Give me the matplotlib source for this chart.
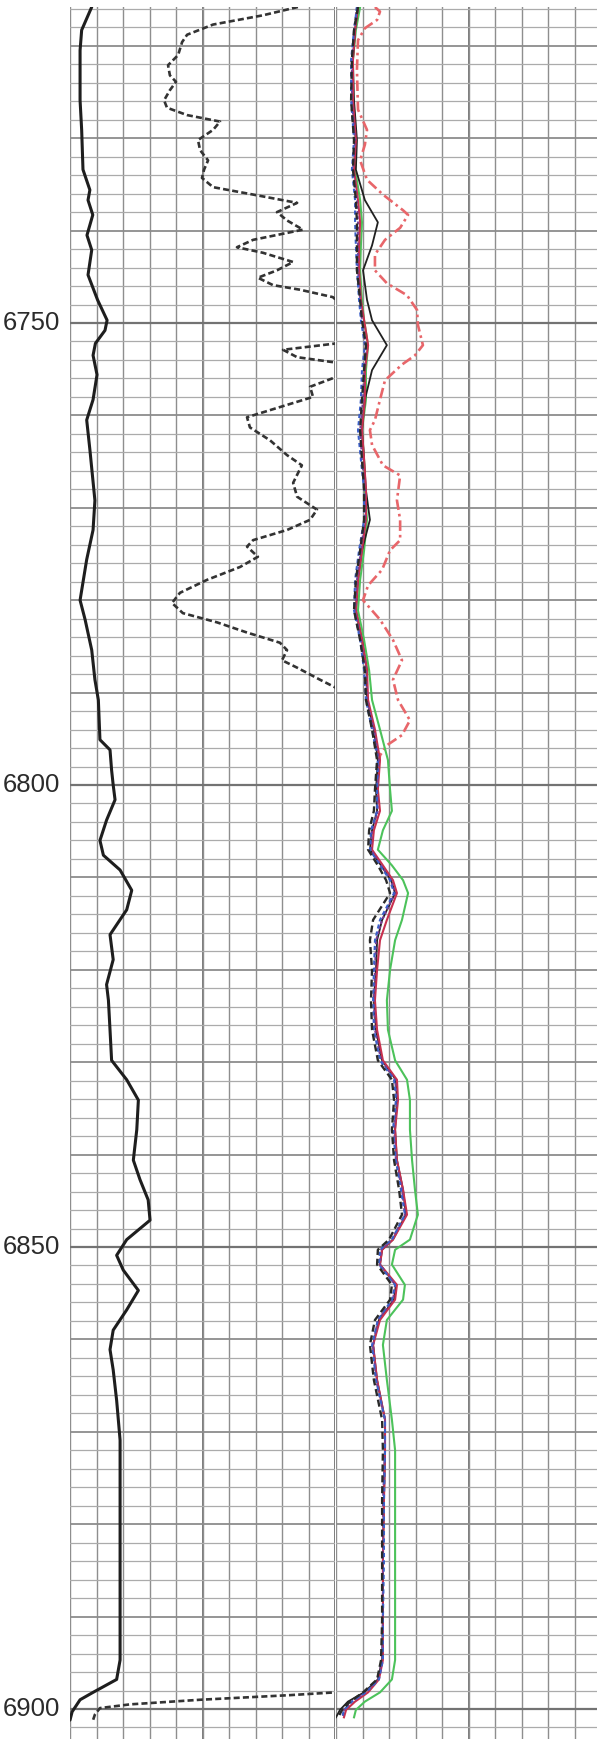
import numpy as np
import matplotlib
matplotlib.use("Agg")
import matplotlib.pyplot as plt
from matplotlib.transforms import blended_transform_factory

# ---------------- data ----------------
# Track 1, solid curve (depth ft, value 0-100 track scale)
t1_solid_depth = [6715.8, 6718.3, 6720.5, 6725.9, 6729.1, 6733.4, 6735.6, 6736.7, 6738.3, 6740.5,
                  6742.1, 6744.8, 6747.5, 6749.7, 6750.8, 6752.2, 6753.5, 6755.6, 6758.3, 6760.5,
                  6763.7, 6769.2, 6772.4, 6775.6, 6780.0, 6782.1, 6785.4, 6788.6, 6790.8, 6795.1,
                  6796.2, 6798.4, 6800.0, 6801.6, 6803.8, 6806.0, 6807.6, 6809.2, 6811.4, 6813.5,
                  6816.2, 6818.9, 6821.6, 6823.3, 6826.5, 6829.8, 6831.9, 6834.1, 6837.3, 6840.6,
                  6842.7, 6844.9, 6847.1, 6849.2, 6850.9, 6852.5, 6854.7, 6856.8, 6859.0, 6861.1,
                  6863.3, 6866.6, 6870.9, 6877.4, 6888.2, 6894.7, 6896.8, 6898.2, 6899.0, 6900.3,
                  6901.2]
t1_solid_val = [8.2, 4.4, 3.8, 3.8, 4.4, 4.9, 7.5, 6.8, 8.6, 6.4,
                8.2, 6.8, 10.4, 14.0, 13.2, 9.6, 8.7, 10.2, 8.7, 6.3,
                7.5, 9.4, 8.7, 6.3, 3.8, 5.7, 8.2, 9.4, 10.7, 11.3,
                15.1, 15.7, 16.3, 17.0, 13.8, 11.3, 12.6, 18.9, 23.3, 21.4,
                15.1, 16.3, 13.8, 14.5, 15.1, 15.7, 21.4, 25.8, 25.2, 23.9,
                26.4, 29.5, 30.2, 21.4, 17.6, 20.1, 25.8, 21.4, 16.3, 15.1,
                16.3, 17.6, 18.9, 18.9, 18.9, 18.9, 17.6, 8.7, 3.8, 0.8,
                0.0]

# Track 1, dashed curve (goes off scale to the right between ~6790 and ~6898)
t1_dash_depth = [6715.8, 6716.7, 6717.7, 6718.8, 6719.6, 6721.0, 6722.1, 6723.2, 6723.9, 6724.8,
                 6725.9, 6726.7, 6727.5, 6728.2, 6729.1, 6730.2, 6731.3, 6732.4, 6733.4, 6734.3,
                 6735.3, 6736.1, 6737.0, 6738.0, 6738.9, 6739.9, 6741.0, 6741.8, 6742.4, 6743.4,
                 6744.3, 6745.1, 6745.9, 6746.4, 6747.2, 6749.5, 6752.2, 6752.9, 6753.7, 6754.3,
                 6755.1, 6755.8, 6756.9, 6758.0, 6759.1, 6760.2, 6761.3, 6762.7, 6764.3, 6765.4,
                 6767.3, 6768.8, 6770.2, 6771.3, 6772.4, 6773.5, 6774.2, 6775.3, 6776.4, 6777.8,
                 6779.2, 6780.3, 6781.4, 6782.4, 6783.5, 6784.6, 6785.4, 6786.5, 6787.3, 6788.6,
                 6789.7, 6791.0, 6897.5, 6898.2, 6898.5, 6899.0, 6899.5, 6899.9, 6900.6, 6901.2]
t1_dash_val = [86.0, 72.8, 54.0, 44.2, 42.3, 40.8, 37.0, 37.7, 40.0, 37.7,
               35.5, 36.6, 44.2, 56.6, 54.0, 48.3, 49.1, 52.1, 50.6, 49.8,
               54.0, 69.1, 85.7, 78.1, 81.9, 87.9, 69.1, 63.0, 72.8, 84.2,
               78.1, 70.9, 76.6, 86.8, 99.2, 108.0, 100.8, 80.4, 85.7, 100.8,
               108.0, 100.8, 90.6, 91.7, 79.2, 66.8, 67.9, 75.5, 81.9, 87.5,
               84.2, 85.7, 93.2, 90.6, 81.9, 69.1, 66.8, 70.9, 64.2, 51.7,
               41.5, 38.5, 42.6, 55.5, 66.8, 79.2, 81.9, 80.0, 85.7, 94.3,
               101.9, 115.0, 115.0, 100.0, 83.0, 49.1, 22.6, 11.3, 9.4, 8.7]

# Track 2 curve bundle (shared depths)
t2_depth = [6715.8, 6718.3, 6721.5, 6725.9, 6730.2, 6733.4, 6736.7, 6739.1, 6741.6, 6744.3,
            6747.5, 6749.7, 6752.4, 6755.1, 6758.3, 6761.6, 6764.8, 6768.1, 6771.3, 6774.6,
            6777.8, 6781.1, 6784.3, 6787.6, 6790.8, 6794.0, 6797.3, 6800.5, 6802.8, 6804.9,
            6807.0, 6808.7, 6810.3, 6811.7, 6814.6, 6816.8, 6820.0, 6823.3, 6826.5, 6829.8,
            6831.9, 6834.1, 6837.3, 6840.6, 6843.8, 6846.5, 6849.2, 6850.3, 6851.9, 6854.1,
            6855.7, 6857.9, 6860.6, 6864.4, 6868.7, 6872.0, 6877.4, 6883.9, 6890.4, 6894.7,
            6896.8, 6898.2, 6899.2, 6900.1, 6900.9]
t2_green = [9.1, 7.5, 6.4, 6.4, 7.5, 7.2, 9.1, 9.8, 9.4, 9.1,
            9.8, 10.6, 12.1, 11.3, 11.3, 9.8, 10.6, 10.9, 11.7, 10.6,
            9.1, 8.3, 10.6, 12.5, 13.6, 16.6, 19.6, 20.4, 21.1, 17.7,
            15.8, 21.1, 25.3, 27.2, 24.9, 22.3, 20.4, 19.2, 19.6, 22.3,
            26.8, 27.9, 27.9, 28.7, 29.8, 30.9, 27.9, 22.3, 21.1, 26.0,
            25.3, 19.2, 17.7, 19.2, 21.1, 22.3, 22.3, 22.3, 22.3, 22.3,
            21.1, 16.6, 10.9, 7.5, 6.8]
t2_red = [8.3, 7.2, 6.4, 6.4, 7.5, 6.8, 8.3, 9.1, 8.7, 8.7,
          9.4, 10.6, 12.1, 10.9, 10.9, 9.8, 10.6, 11.3, 11.3, 9.8,
          8.3, 7.5, 9.8, 11.7, 12.1, 14.7, 16.6, 15.8, 16.6, 14.3,
          13.6, 17.7, 21.5, 23.0, 19.2, 16.6, 15.5, 14.7, 15.5, 17.7,
          23.0, 23.4, 22.3, 23.0, 25.3, 26.8, 21.5, 17.4, 16.6, 23.0,
          22.3, 16.6, 14.0, 15.5, 18.5, 18.5, 18.1, 17.7, 17.7, 17.7,
          16.2, 12.1, 7.2, 3.8, 3.0]
t2_black_dash = [8.3, 6.8, 6.0, 5.7, 6.8, 6.4, 7.5, 7.9, 7.9, 7.9,
                 9.1, 9.8, 11.3, 10.6, 9.8, 9.1, 9.8, 10.6, 10.6, 9.1,
                 7.5, 6.8, 9.1, 10.9, 11.3, 13.6, 15.5, 14.7, 14.3, 12.5,
                 12.1, 15.8, 18.9, 20.4, 14.0, 12.8, 13.6, 13.2, 13.6, 15.8,
                 21.1, 21.9, 21.1, 21.9, 23.8, 24.9, 20.0, 15.8, 15.5, 21.1,
                 20.4, 14.7, 12.8, 14.3, 17.4, 17.7, 17.4, 17.4, 17.4, 17.0,
                 15.5, 10.2, 5.3, 2.3, 0.8]
t2_blue = [7.9, 6.8, 5.7, 5.7, 6.8, 6.0, 7.2, 7.2, 7.5, 7.9,
           8.7, 9.4, 10.9, 9.8, 9.4, 8.3, 9.4, 10.6, 10.6, 8.7,
           7.2, 6.8, 9.1, 10.6, 11.3, 13.6, 15.8, 15.5, 15.5, 13.2,
           12.8, 16.6, 20.4, 21.9, 16.6, 14.7, 14.3, 14.0, 14.3, 16.6,
           21.9, 22.6, 21.5, 22.6, 24.5, 26.0, 21.1, 16.6, 16.2, 22.3,
           21.1, 15.8, 13.6, 15.1, 18.5, 18.5, 18.1, 18.1, 17.7, 17.7,
           16.2, 11.3, 6.0, 3.0, 2.3]
t2_black = [8.3, 7.2, 6.4, 6.8, 7.9, 7.5, 10.9, 15.8, 13.6, 10.2,
            11.7, 13.6, 19.2, 13.6, 10.9, 9.8, 10.6, 11.3, 12.8, 9.8,
            8.3, 7.5, 9.8, 11.7, 11.7, 14.3, 15.8, 15.1, 15.5, 13.6,
            12.8, 17.0, 20.8, 22.3, 17.4, 15.5, 15.1, 14.3, 15.1, 17.4,
            22.6, 23.0, 22.3, 23.0, 25.3, 26.4, 21.5, 17.4, 16.6, 22.6,
            21.9, 16.2, 14.0, 15.5, 18.5, 18.5, 18.1, 17.7, 17.7, 17.4,
            15.8, 10.6, 4.5, 1.5, 0.0]
t2_purple = [7.9, 6.8, 6.0, 6.0, 7.2, 6.4, 7.9, 8.3, 8.3, 8.3,
             9.1, 9.8, 11.3, 10.6, 10.2, 9.1, 9.8, 10.9, 10.9, 9.4,
             7.9, 7.2, 9.4, 11.3, 11.7, 14.3, 16.2, 15.5, 15.8, 13.6,
             13.2, 17.0, 20.8, 22.3, 17.4, 15.1, 14.7, 14.3, 14.7, 17.0,
             22.3, 23.0, 21.9, 22.6, 24.9, 26.0, 21.1, 17.0, 16.6, 22.3,
             21.5, 15.8, 14.0, 15.1, 18.5, 18.5, 17.7, 17.7, 17.7, 17.4,
             15.8, 11.3, 6.0, 3.0, 2.6]

# Track 2, red dash-dot curve (upper interval only)
t2_rdd_depth = [6715.8, 6716.3, 6717.2, 6718.1, 6719.4, 6722.6, 6726.9, 6729.1, 6730.7, 6732.4,
                6734.5, 6736.1, 6737.8, 6738.3, 6739.7, 6741.0, 6742.6, 6744.3, 6745.7, 6747.0,
                6748.6, 6750.2, 6752.4, 6753.5, 6754.5, 6756.2, 6758.3, 6760.5, 6761.6, 6763.2,
                6765.4, 6766.5, 6769.2, 6771.3, 6773.5, 6774.6, 6776.7, 6778.4, 6780.0, 6782.1,
                6784.3, 6786.5, 6788.6, 6790.8, 6793.0, 6794.6, 6795.7, 6796.8, 6798.4]
t2_rdd_val = [14.7, 16.6, 15.5, 10.9, 8.3, 7.9, 8.3, 11.7, 10.9, 9.1,
              11.7, 17.7, 25.3, 27.2, 24.2, 18.5, 14.7, 14.7, 19.2, 26.8,
              30.6, 30.9, 32.8, 29.8, 24.9, 18.5, 16.6, 14.7, 12.8, 13.6,
              17.7, 24.2, 23.0, 24.2, 24.2, 20.4, 17.4, 12.1, 10.2, 16.6,
              21.5, 24.9, 21.5, 23.4, 27.9, 24.9, 19.2, 16.6, 15.8]

depth_labels = [6750, 6800, 6850, 6900]

# ---------------- figure ----------------
W, H = 597, 1739
top_px = 7
px_per_ft = 9.24
d_top = 6750 + (top_px - 323) / px_per_ft
d_bot = 6750 + (H - 323) / px_per_ft

fig = plt.figure(figsize=(W / 100, H / 100), dpi=100)
fig.patch.set_facecolor("white")

ax1 = fig.add_axes([70 / W, 0, 265 / W, (H - top_px) / H])
ax2 = fig.add_axes([336 / W, 0, 265 / W, (H - top_px) / H])

for ax in (ax1, ax2):
    ax.set_xlim(0, 100)
    ax.set_ylim(d_bot, d_top)
    ax.set_xticks(np.arange(0, 101, 10))
    ax.set_yticks(np.arange(6720, 6904, 10))
    ax.set_yticks(np.arange(6716, 6904, 2), minor=True)
    ax.tick_params(which="both", length=0, labelbottom=False, labelleft=False)
    ax.set_axisbelow(True)
    ax.grid(which="minor", axis="y", color="#ababab", lw=0.9)
    ax.grid(which="major", axis="y", color="#8c8c8c", lw=1.3)
    ax.grid(which="major", axis="x", color="#8e8e8e", lw=1.0)
    for x in (0, 50, 100):
        ax.axvline(x, color="#7a7a7a", lw=1.4, zorder=0.5)
    for d in depth_labels:
        ax.axhline(d, color="#737373", lw=1.6, zorder=0.6)
    for s in ax.spines.values():
        s.set_visible(False)

# track 1 curves
ax1.plot(t1_solid_val, t1_solid_depth, color="#1e1e1e", lw=2.2,
         solid_joinstyle="round", solid_capstyle="round", zorder=3)
ax1.plot(t1_dash_val, t1_dash_depth, color="#333333", lw=1.9,
         linestyle=(0, (2.3, 1.2)), zorder=3)

# track 2 curves
ax2.plot(t2_rdd_val, t2_rdd_depth, color="#e8666a", lw=1.9,
         linestyle=(0, (4, 1.5, 1, 1.5)), zorder=3)
ax2.plot(t2_green, t2_depth, color="#4cc25a", lw=1.5, zorder=3)
ax2.plot(t2_black, t2_depth, color="#202020", lw=1.3, zorder=3)
ax2.plot(t2_red, t2_depth, color="#c8304e", lw=1.5, zorder=4)
ax2.plot(t2_purple, t2_depth, color="#7b3f93", lw=1.4,
         linestyle=(0, (1.5, 1.2)), zorder=4)
ax2.plot(t2_blue, t2_depth, color="#3b5fc8", lw=1.5,
         linestyle=(0, (2, 1.5)), zorder=4)
ax2.plot(t2_black_dash, t2_depth, color="#2a2a2a", lw=1.7,
         linestyle=(0, (3, 1.6)), zorder=5)

# depth labels, left of track 1
lab_tr = blended_transform_factory(fig.transFigure, ax1.transData)
for d in depth_labels:
    ax1.text(3 / W, d, str(d), ha="left", va="center", transform=lab_tr,
             fontsize=18.5, family=["Liberation Sans", "DejaVu Sans"],
             color="#2b2b2b", clip_on=False)

fig.savefig("out.png", dpi=100, facecolor="white")
